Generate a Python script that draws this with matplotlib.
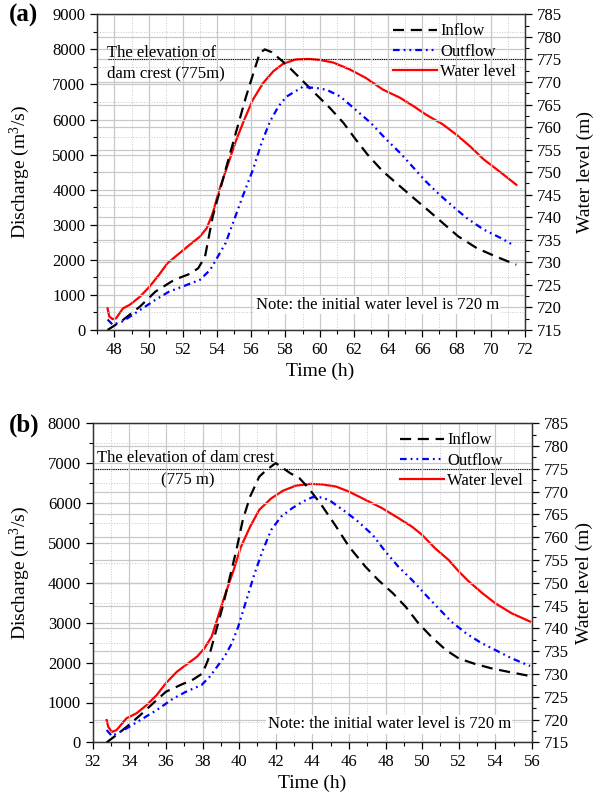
import matplotlib
matplotlib.use("Agg")
import matplotlib.pyplot as plt
from matplotlib.ticker import MultipleLocator
from matplotlib.lines import Line2D

plt.rcParams["font.family"] = ["Liberation Serif", "DejaVu Serif"]
plt.rcParams["mathtext.fontset"] = "custom"
plt.rcParams["mathtext.rm"] = "Liberation Serif"
plt.rcParams["mathtext.default"] = "regular"

# ---------------------------------------------------------------------------
# Data — panel (a)
# ---------------------------------------------------------------------------

time_in_a = [47.6, 48.5, 49.5, 50.4, 51.5, 52.4, 52.9, 53.3, 53.75, 54.5, 55.1,
             55.7, 56.5, 56.8, 57.2, 58.05, 58.83, 59.6, 60.6, 61.4, 62.05,
             62.8, 63.7, 64.6, 65.5, 66.3, 67.2, 68.1, 69.2, 70.3, 71.5]
inflow_a = [0, 285, 670, 1095, 1430, 1600, 1760, 2095, 3240, 4570, 5620,
            6660, 7900, 8000, 7920, 7570, 7190, 6810, 6330, 5900, 5470,
            5000, 4520, 4140, 3760, 3430, 3050, 2670, 2330, 2095, 1860]

time_out_a = [47.6, 47.9, 48.5, 49.5, 50.4, 51.2, 52.1, 53.0, 53.6, 54.05,
              54.5, 55.0, 55.5, 56.1, 56.6, 57.1, 57.6, 58.05, 59.0, 59.8,
              60.4, 61.2, 62.1, 63.0, 63.9, 64.7, 65.5, 66.2, 67.0, 67.8,
              68.6, 69.6, 70.6, 71.4]
outflow_a = [300, 150, 250, 570, 860, 1095, 1260, 1430, 1715, 2095,
             2475, 3140, 3810, 4570, 5330, 5950, 6380, 6650, 6930, 6900,
             6850, 6660, 6280, 5900, 5430, 5050, 4620, 4240, 3860, 3520,
             3190, 2860, 2620, 2400]

time_wl_a = [47.6, 47.7, 47.9, 48.1, 48.5, 48.9, 49.5, 50.05, 50.6, 51.1,
             51.7, 52.4, 53.0, 53.4, 53.75, 54.1, 54.6, 55.1, 55.6, 56.1,
             56.7, 57.3, 57.85, 58.6, 59.4, 60.0, 60.8, 61.75, 62.7, 63.7,
             64.7, 65.5, 66.2, 67.2, 68.0, 68.8, 69.6, 70.5, 71.5]
level_a = [719.8, 718.0, 717.4, 717.6, 719.8, 720.6, 722.4, 724.6, 727.2, 729.8,
           731.7, 733.9, 735.7, 737.6, 740.9, 745.7, 751.3, 756.9, 761.7, 766.1,
           769.8, 772.4, 774.0, 775.0, 775.1, 774.9, 774.3, 772.8, 770.9, 768.3,
           766.5, 764.6, 762.8, 760.6, 758.3, 755.7, 752.8, 750.2, 747.2]

# ---------------------------------------------------------------------------
# Data — panel (b)
# ---------------------------------------------------------------------------

time_in_b = [32.76, 33.3, 33.85, 34.6, 35.3, 36.0, 36.8, 37.5, 38.0, 38.3,
             38.7, 39.1, 39.5, 39.85, 40.2, 40.6, 41.1, 41.5, 42.0, 42.8,
             43.3, 43.8, 44.5, 45.3, 46.0, 46.9, 47.6, 48.4, 49.1, 49.8,
             50.5, 51.3, 52.0, 52.9, 53.8, 54.7, 55.6, 55.9]
inflow_b = [0, 185, 390, 685, 980, 1270, 1440, 1580, 1730, 2065,
            2730, 3400, 4155, 4820, 5575, 6160, 6660, 6830, 7000, 6745,
            6620, 6370, 5950, 5410, 4910, 4405, 4070, 3740, 3400, 2985,
            2650, 2315, 2105, 1965, 1855, 1770, 1690, 1665]

time_out_b = [32.76, 33.05, 33.85, 34.6, 35.5, 36.4, 37.1, 37.95, 38.4, 38.8,
              39.2, 39.6, 39.95, 40.4, 40.85, 41.3, 41.75, 42.3, 42.9, 43.5,
              44.0, 44.4, 44.9, 45.8, 46.5, 47.3, 48.0, 48.7, 49.45, 50.2,
              50.9, 51.6, 52.4, 53.2, 54.0, 54.9, 55.9]
outflow_b = [310, 160, 350, 560, 810, 1100, 1270, 1440, 1650, 1900,
             2150, 2480, 2900, 3570, 4240, 4820, 5325, 5660, 5870, 6040,
             6145, 6145, 6080, 5785, 5535, 5200, 4780, 4405, 4070, 3695,
             3360, 3025, 2735, 2500, 2315, 2105, 1915]

time_wl_b = [32.76, 32.85, 33.05, 33.3, 33.85, 34.4, 34.95, 35.5, 36.0, 36.6,
             37.1, 37.7, 38.1, 38.5, 38.85, 39.2, 39.7, 40.1, 40.6, 41.1,
             41.75, 42.4, 43.1, 43.9, 44.5, 45.3, 46.0, 46.9, 47.8, 48.7,
             49.45, 50.0, 50.7, 51.45, 52.0, 52.55, 53.3, 54.0, 54.9, 55.9]
level_b = [719.9, 718.4, 717.3, 717.7, 720.3, 721.4, 723.2, 725.4, 728.0, 730.5,
           732.0, 733.8, 735.6, 738.2, 742.6, 747.0, 752.8, 757.9, 762.3, 766.0,
           768.5, 770.2, 771.3, 771.7, 771.6, 771.1, 770.0, 768.2, 766.4, 764.2,
           762.3, 760.5, 757.6, 755.0, 752.5, 750.3, 747.7, 745.5, 743.3, 741.5]

DAM_CREST = 775
NOTE = "Note: the initial water level is 720 m"

# ---------------------------------------------------------------------------
# Styles
# ---------------------------------------------------------------------------

GRID_C    = "#c8c8c8"
DASH_IN   = (5, 3)
DASH_OUT  = (3, 1.8, 0.8, 1.8, 0.8, 1.8)
TICK_FS   = 12
LABEL_FS  = 14
TEXT_FS   = 12


def draw_panel(ax, t_in, q_in, t_out, q_out, t_wl, wl, xlim, ylim, crest_x0):
    """Inflow/outflow on the left axis, water level on a twin right axis."""
    ax2 = ax.twinx()
    ax.set_zorder(ax2.get_zorder() + 1)
    ax.patch.set_visible(False)

    # grids: x and left-axis on ax, right-axis majors on ax2 (drawn underneath)
    ax.xaxis.set_major_locator(MultipleLocator(2))
    ax.xaxis.set_minor_locator(MultipleLocator(1))
    ax.yaxis.set_major_locator(MultipleLocator(1000))
    ax.yaxis.set_minor_locator(MultipleLocator(500))
    ax2.yaxis.set_major_locator(MultipleLocator(5))
    ax2.yaxis.set_minor_locator(MultipleLocator(2.5))

    ax.grid(True, which="major", color=GRID_C, lw=0.9)
    ax.grid(True, which="minor", color=GRID_C, lw=0.7, ls=":")
    ax2.grid(True, which="major", axis="y", color=GRID_C, lw=0.9)
    ax.set_axisbelow(True)

    ax.plot(t_in, q_in, color="black", lw=1.6, dashes=DASH_IN)
    ax.plot(t_out, q_out, color="#0000ff", lw=1.6, dashes=DASH_OUT)
    ax2.plot(t_wl, wl, color="#ff0000", lw=1.6)
    ax2.hlines(DAM_CREST, crest_x0, xlim[1], colors="black", lw=0.8,
               linestyles=(0, (1, 1)), zorder=3)

    ax.set_xlim(*xlim)
    ax.set_ylim(*ylim)
    ax2.set_ylim(715, 785)

    for a in (ax, ax2):
        a.tick_params(which="both", direction="out", labelsize=TICK_FS,
                      top=False)
        a.tick_params(which="major", length=5, width=0.9)
        a.tick_params(which="minor", length=3, width=0.8)
        for s in a.spines.values():
            s.set_color("#333333")
            s.set_linewidth(0.9)

    ax.set_xlabel("Time (h)", fontsize=LABEL_FS)
    ax.set_ylabel("Discharge (m$^3$/s)", fontsize=LABEL_FS)
    ax2.set_ylabel("Water level (m)", fontsize=LABEL_FS)

    handles = [
        Line2D([], [], color="black", lw=1.6, dashes=DASH_IN),
        Line2D([], [], color="#0000ff", lw=1.6, dashes=DASH_OUT),
        Line2D([], [], color="#ff0000", lw=1.6),
    ]
    leg = ax.legend(handles, ["Inflow", "Outflow", "Water level"],
                    loc="upper right", frameon=False, fontsize=TEXT_FS,
                    handlelength=2.6, handletextpad=0.2, labelspacing=0.25,
                    borderaxespad=0.15)
    return ax2, leg


fig = plt.figure(figsize=(6.1, 8.0), dpi=100)
ax_a = fig.add_axes([0.1595, 0.5875, 0.701, 0.3946])
ax_b = fig.add_axes([0.152, 0.072, 0.720, 0.399])

# --- panel (a) ---
ax2_a, _ = draw_panel(ax_a, time_in_a, inflow_a, time_out_a, outflow_a,
                      time_wl_a, level_a, (47, 72), (0, 9000), 47.6)
ax_a.text(47.58, 7900, "The elevation of", fontsize=TEXT_FS, va="center",
          ha="left", zorder=5)
ax_a.text(47.58, 7330, "dam crest (775m)", fontsize=TEXT_FS, va="center",
          ha="left", zorder=5)
ax_a.text(0.939, 0.079, NOTE, transform=ax_a.transAxes, fontsize=TEXT_FS,
          ha="right", va="center", zorder=5,
          bbox=dict(facecolor="white", edgecolor="none", pad=1))
ax_a.xaxis.set_label_coords(0.52, -0.104)
ax_a.yaxis.set_label_coords(-0.152, 0.5)
ax2_a.yaxis.set_label_coords(1.12, 0.5)
fig.text(23 / 610, 1 - 15 / 800, "(a)", fontsize=18, fontweight="bold",
         ha="center", va="center")

# --- panel (b) ---
ax2_b, _ = draw_panel(ax_b, time_in_b, inflow_b, time_out_b, outflow_b,
                      time_wl_b, level_b, (32, 56), (0, 8000), 32)
ax_b.text(32.22, 7118, "The elevation of dam crest", fontsize=TEXT_FS,
          va="center", ha="left", zorder=5)
ax_b.text(37.19, 6574, "(775 m)", fontsize=TEXT_FS, va="center",
          ha="center", zorder=5)
ax_b.text(0.952, 0.057, NOTE, transform=ax_b.transAxes, fontsize=TEXT_FS,
          ha="right", va="center", zorder=5,
          bbox=dict(facecolor="white", edgecolor="none", pad=1))
ax_b.xaxis.set_label_coords(0.5, -0.1025)
ax_b.yaxis.set_label_coords(-0.138, 0.53)
ax2_b.yaxis.set_label_coords(1.10, 0.5)
fig.text(24 / 610, 1 - 425 / 800, "(b)", fontsize=18, fontweight="bold",
         ha="center", va="center")

plt.savefig("out.png", dpi=100)
